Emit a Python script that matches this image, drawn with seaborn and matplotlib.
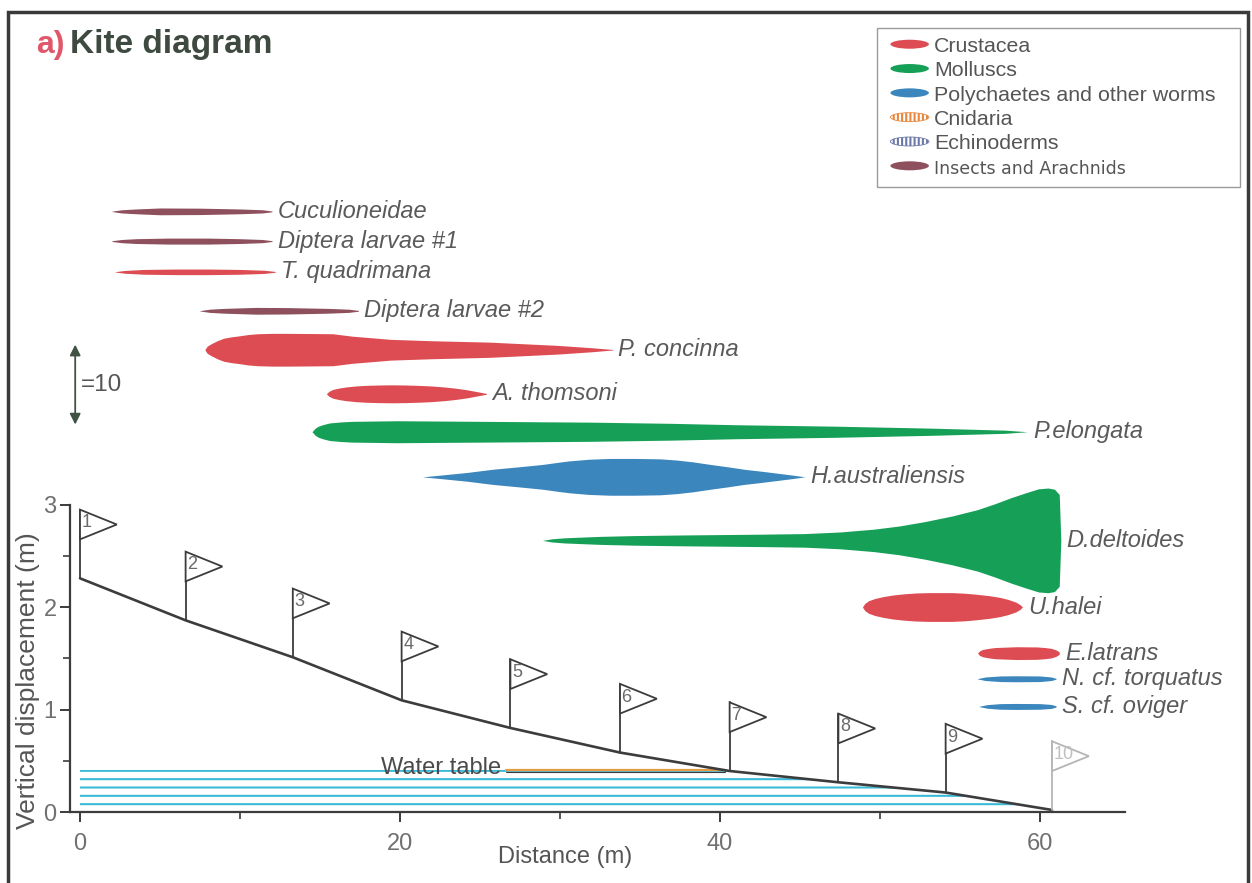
import numpy as np
import matplotlib
matplotlib.use("Agg")
import matplotlib.pyplot as plt
import matplotlib.patches as mpatches
from matplotlib.legend_handler import HandlerPatch
import seaborn as sns

# ---- beach profile (stations = survey flags) ----
station_x = [0.0, 6.6, 13.3, 20.1, 26.9, 33.75, 40.6, 47.4, 54.1, 60.75]
ground_z = [2.28, 1.87, 1.51, 1.09, 0.82, 0.58, 0.40, 0.29, 0.19, 0.02]
flag_labels = ["1", "2", "3", "4", "5", "6", "7", "8", "9", "10"]
water_level = 0.41

# ---- kite data: distance (m) and abundance (individuals) ----
kite_names = ["Cuculioneidae", "Diptera larvae #1", "T. quadrimana", "Diptera larvae #2",
              "P. concinna", "A. thomsoni", "P.elongata", "H.australiensis",
              "D.deltoides", "U.halei", "E.latrans", "N. cf. torquatus", "S. cf. oviger"]
kite_group = ["Insects", "Insects", "Crustacea", "Insects",
              "Crustacea", "Crustacea", "Molluscs", "Polychaetes",
              "Molluscs", "Crustacea", "Crustacea", "Polychaetes", "Polychaetes"]
kite_level = [5.86, 5.57, 5.27, 4.89, 4.51, 4.08, 3.71, 3.27, 2.65, 2.0, 1.55, 1.30, 1.03]
kite_x = [
    [2.0, 2.6, 3.5, 5.0, 7.5, 10.0, 11.4, 12.0],
    [2.0, 2.6, 3.5, 5.5, 8.0, 10.0, 11.4, 12.0],
    [2.2, 2.8, 4.0, 6.0, 8.0, 10.0, 11.5, 12.2],
    [7.5, 8.1, 9.0, 11.0, 13.0, 15.5, 16.8, 17.4],
    [7.8, 7.95, 8.2, 8.6, 9.0, 9.5, 10.0, 10.5, 11.1, 12.0, 13.0, 14.5, 15.8, 16.4, 17.0,
     18.2, 19.4, 22.0, 25.6, 27.7, 29.8, 32.0, 33.3],
    [15.4, 15.55, 15.8, 16.2, 16.6, 17.2, 17.8, 18.6, 19.5, 20.4, 21.2, 22.0, 22.8, 23.5,
     24.2, 24.8, 25.4],
    [14.5, 14.7, 14.9, 15.2, 15.6, 16.3, 17.0, 19.8, 25.0, 31.9, 37.0, 41.0, 47.1, 53.2,
     57.8, 59.2],
    [21.4, 22.7, 24.2, 25.8, 27.4, 28.9, 30.0, 30.6, 31.8, 33.1, 34.7, 36.25, 37.3, 38.3,
     39.4, 40.5, 41.5, 42.6, 43.6, 44.6, 45.3],
    [28.9, 29.5, 30.3, 32.5, 34.6, 37.5, 40.0, 42.5, 45.3, 47.5, 49.6, 51.2, 52.8, 54.5,
     56.1, 57.2, 58.2, 59.1, 59.9, 60.5, 60.9, 61.2, 61.3],
    [48.9, 49.05, 49.3, 49.7, 50.2, 50.8, 51.5, 52.2, 53.0, 54.5, 55.3, 56.0, 56.8, 57.5,
     58.0, 58.5, 58.75, 58.9],
    [56.1, 56.2, 56.4, 56.8, 57.2, 58.5, 59.8, 60.3, 60.7, 61.0, 61.2],
    [56.1, 56.6, 57.5, 58.5, 60.0, 60.7, 61.0],
    [56.2, 56.7, 57.5, 58.5, 60.0, 60.7, 61.0],
]
kite_n = [
    [0.05, 0.4, 0.6, 0.85, 0.8, 0.6, 0.4, 0.1],
    [0.1, 0.4, 0.6, 0.75, 0.75, 0.6, 0.4, 0.1],
    [0.05, 0.35, 0.6, 0.7, 0.7, 0.6, 0.4, 0.1],
    [0.05, 0.4, 0.6, 0.85, 0.8, 0.6, 0.4, 0.1],
    [0.0, 0.9, 1.5, 2.3, 2.9, 3.25, 3.5, 3.8, 4.0, 4.1, 4.1, 4.05, 4.0, 3.7, 3.4,
     3.0, 2.6, 2.25, 1.9, 1.5, 1.1, 0.5, 0.06],
    [0.0, 0.6, 1.1, 1.45, 1.7, 1.95, 2.1, 2.2, 2.25, 2.2, 2.1, 1.95, 1.7, 1.4,
     1.0, 0.55, 0.1],
    [0.0, 0.9, 1.4, 1.8, 2.2, 2.45, 2.6, 2.75, 2.6, 2.4, 2.1, 1.75, 1.4, 0.9,
     0.4, 0.0],
    [0.0, 0.5, 1.1, 1.9, 2.5, 3.1, 3.7, 4.0, 4.4, 4.6, 4.6, 4.5, 4.2, 3.75,
     3.1, 2.5, 1.9, 1.4, 0.9, 0.4, 0.0],
    [0.0, 0.4, 0.65, 1.0, 1.2, 1.35, 1.45, 1.55, 1.7, 2.1, 2.8, 3.6, 4.7, 6.1,
     7.7, 9.2, 10.7, 11.9, 12.9, 13.1, 12.8, 11.5, 0.0],
    [0.0, 0.9, 1.6, 2.15, 2.6, 3.0, 3.3, 3.5, 3.6, 3.6, 3.45, 3.2, 2.85, 2.4,
     1.9, 1.2, 0.6, 0.0],
    [0.0, 0.5, 0.9, 1.2, 1.4, 1.6, 1.55, 1.4, 1.2, 0.8, 0.3],
    [0.05, 0.45, 0.7, 0.75, 0.7, 0.45, 0.1],
    [0.05, 0.45, 0.7, 0.75, 0.7, 0.5, 0.15],
]
scale_n = 10          # scale arrow = 10 individuals
m_per_ind = 0.078     # kite width (m of vertical axis) per individual

group_names = ["Crustacea", "Molluscs", "Polychaetes and other worms",
               "Cnidaria", "Echinoderms", "Insects and Arachnids"]
group_key = ["Crustacea", "Molluscs", "Polychaetes", "Cnidaria", "Echinoderms", "Insects"]
group_color = {"Crustacea": "#DC4C52", "Molluscs": "#16A057", "Polychaetes": "#3B86BD",
               "Cnidaria": "#E8873C", "Echinoderms": "#6C78A8", "Insects": "#8E505C"}

sns.set_theme(style="white")
plt.rcParams["font.family"] = ["Liberation Sans", "DejaVu Sans"]
plt.rcParams["hatch.linewidth"] = 1.5

grey = "#5a5a5a"
line_c = "#3c3c3c"

fig = plt.figure(figsize=(12.52, 8.83), dpi=100)
ax = fig.add_axes([0.05623, 0.0804, 0.8422, 0.906])
ax.set_xlim(-0.6, 65.3)
ax.set_ylim(0, 7.805)

# water table
wtop = np.minimum(ground_z, water_level)
ax.fill_between(station_x, 0, wtop, facecolor="none", edgecolor="#3BBAD8",
                hatch="--", linewidth=0, zorder=1)
wt_x = [26.6, 40.3]
ax.plot(wt_x, [water_level, water_level], color="#E59A45", lw=1.6, zorder=2)
ax.plot(wt_x, [water_level - 0.015, water_level - 0.015], color=line_c, lw=0.8, zorder=2)
ax.text(18.8, water_level + 0.02, "Water table", fontsize=17, color="#4a4a4a",
        ha="left", va="center", zorder=3)

# ground profile
sns.lineplot(x=station_x, y=ground_z, ax=ax, color=line_c, lw=1.9, zorder=4)

# flags
pole = 0.67
for i, (sx, gz, lab) in enumerate(zip(station_x, ground_z, flag_labels)):
    last = i == len(station_x) - 1
    c = "#b5b5b5" if last else line_c
    top = gz + pole
    ax.plot([sx, sx], [gz, top], color=c, lw=1.3, zorder=4)
    tri = mpatches.Polygon([[sx, top], [sx + 2.3, top - 0.145], [sx, top - 0.29]],
                           closed=True, facecolor="white", edgecolor=c, lw=1.3, zorder=4)
    ax.add_patch(tri)
    ax.text(sx + 0.1, top - 0.13, lab, fontsize=13, color="#c0c0c0" if last else "#6a6a6a",
            ha="left", va="center", zorder=5)

# kites
for name, grp, lvl, xs, ns in zip(kite_names, kite_group, kite_level, kite_x, kite_n):
    half = np.array(ns) * m_per_ind / 2
    ax.fill_between(xs, lvl - half, lvl + half, color=group_color[grp], linewidth=0, zorder=3)
    ax.text(xs[-1] + 0.35, lvl, name, fontsize=17, style="italic", color=grey,
            ha="left", va="center")

# scale arrow
arr_mid = 4.17
arr_half = scale_n * m_per_ind / 2
ax.annotate("", xy=(-0.3, arr_mid + arr_half), xytext=(-0.3, arr_mid - arr_half),
            arrowprops=dict(arrowstyle="<|-|>", color="#3f5244", lw=1.3,
                            mutation_scale=16, shrinkA=0, shrinkB=0))
ax.text(0.05, arr_mid, f"={scale_n}", fontsize=17.5, color="#555555", ha="left", va="center")

# axes styling
for s in ["top", "right"]:
    ax.spines[s].set_visible(False)
ax.spines["left"].set_bounds(0, 3)
for s in ["left", "bottom"]:
    ax.spines[s].set_color(line_c)
    ax.spines[s].set_linewidth(1.6)
ax.set_xticks([0, 20, 40, 60])
ax.set_xticks([10, 30, 50], minor=True)
ax.set_yticks([0, 1, 2, 3])
ax.set_yticks([0.5, 1.5, 2.5], minor=True)
ax.tick_params(axis="both", which="both", direction="out", color=line_c,
               labelcolor="#707070", labelsize=17, bottom=True, left=True)
ax.tick_params(which="major", length=7, width=1.4)
ax.tick_params(which="minor", length=5, width=1.2)
ax.tick_params(axis="x", which="major", pad=8)
ax.tick_params(axis="y", which="major", pad=3)
ax.set_xlabel("Distance (m)", fontsize=17, color="#555555")
ax.set_ylabel("Vertical displacement (m)", fontsize=19, color="#555555")
ax.xaxis.set_label_coords(0.469, -0.043)
ax.yaxis.set_label_coords(-0.029, 0.164)
ax.grid(False)

# legend
class HandlerKite(HandlerPatch):
    def create_artists(self, legend, orig_handle, xdescent, ydescent, width, height, fontsize, trans):
        center = (0.5 * width - 0.5 * xdescent, 0.5 * height - 0.5 * ydescent)
        p = mpatches.Ellipse(xy=center, width=width + xdescent, height=height * 0.55)
        self.update_prop(p, orig_handle, legend)
        p.set_transform(trans)
        return [p]

handles = []
for k in group_key:
    if k in ("Cnidaria", "Echinoderms"):
        handles.append(mpatches.Patch(facecolor="white", edgecolor=group_color[k],
                                      hatch="||||", linewidth=0.6))
    else:
        handles.append(mpatches.Patch(facecolor=group_color[k], edgecolor="none"))
leg = ax.legend(handles, group_names, handler_map={mpatches.Patch: HandlerKite()},
                loc="upper left", bbox_to_anchor=(884 / 1252, 1 - 30 / 883),
                bbox_transform=fig.transFigure, fontsize=15.4, frameon=False,
                handlelength=1.8, handleheight=0.8, handletextpad=0.25,
                labelspacing=0.22, borderpad=0.3, borderaxespad=0)
for t in leg.get_texts():
    t.set_color("#555555")
leg.get_texts()[-1].set_fontsize(12.5)
leg.get_texts()[-1].set_family("DejaVu Sans")
fig.patches.append(mpatches.Rectangle((877 / 1252, 1 - 187 / 883), 363 / 1252, 159 / 883,
                                      transform=fig.transFigure, fill=False,
                                      edgecolor="#9a9a9a", lw=1.0))

# title
fig.text(36 / 1252, 1 - 45 / 883, "a)", fontsize=23, fontweight="bold", color="#E0566A",
         ha="left", va="center")
fig.text(70 / 1252, 1 - 45 / 883, "Kite diagram", fontsize=24, fontweight="bold",
         color="#3E4A40", ha="left", va="center")

# outer frame
fig.patches.append(mpatches.Rectangle((8 / 1252, -0.01), 1240 / 1252, 1 - 12 / 883 + 0.01,
                                      transform=fig.transFigure, fill=False,
                                      edgecolor="#3a3a3a", lw=2.5))

fig.savefig("out.png", dpi=100)
